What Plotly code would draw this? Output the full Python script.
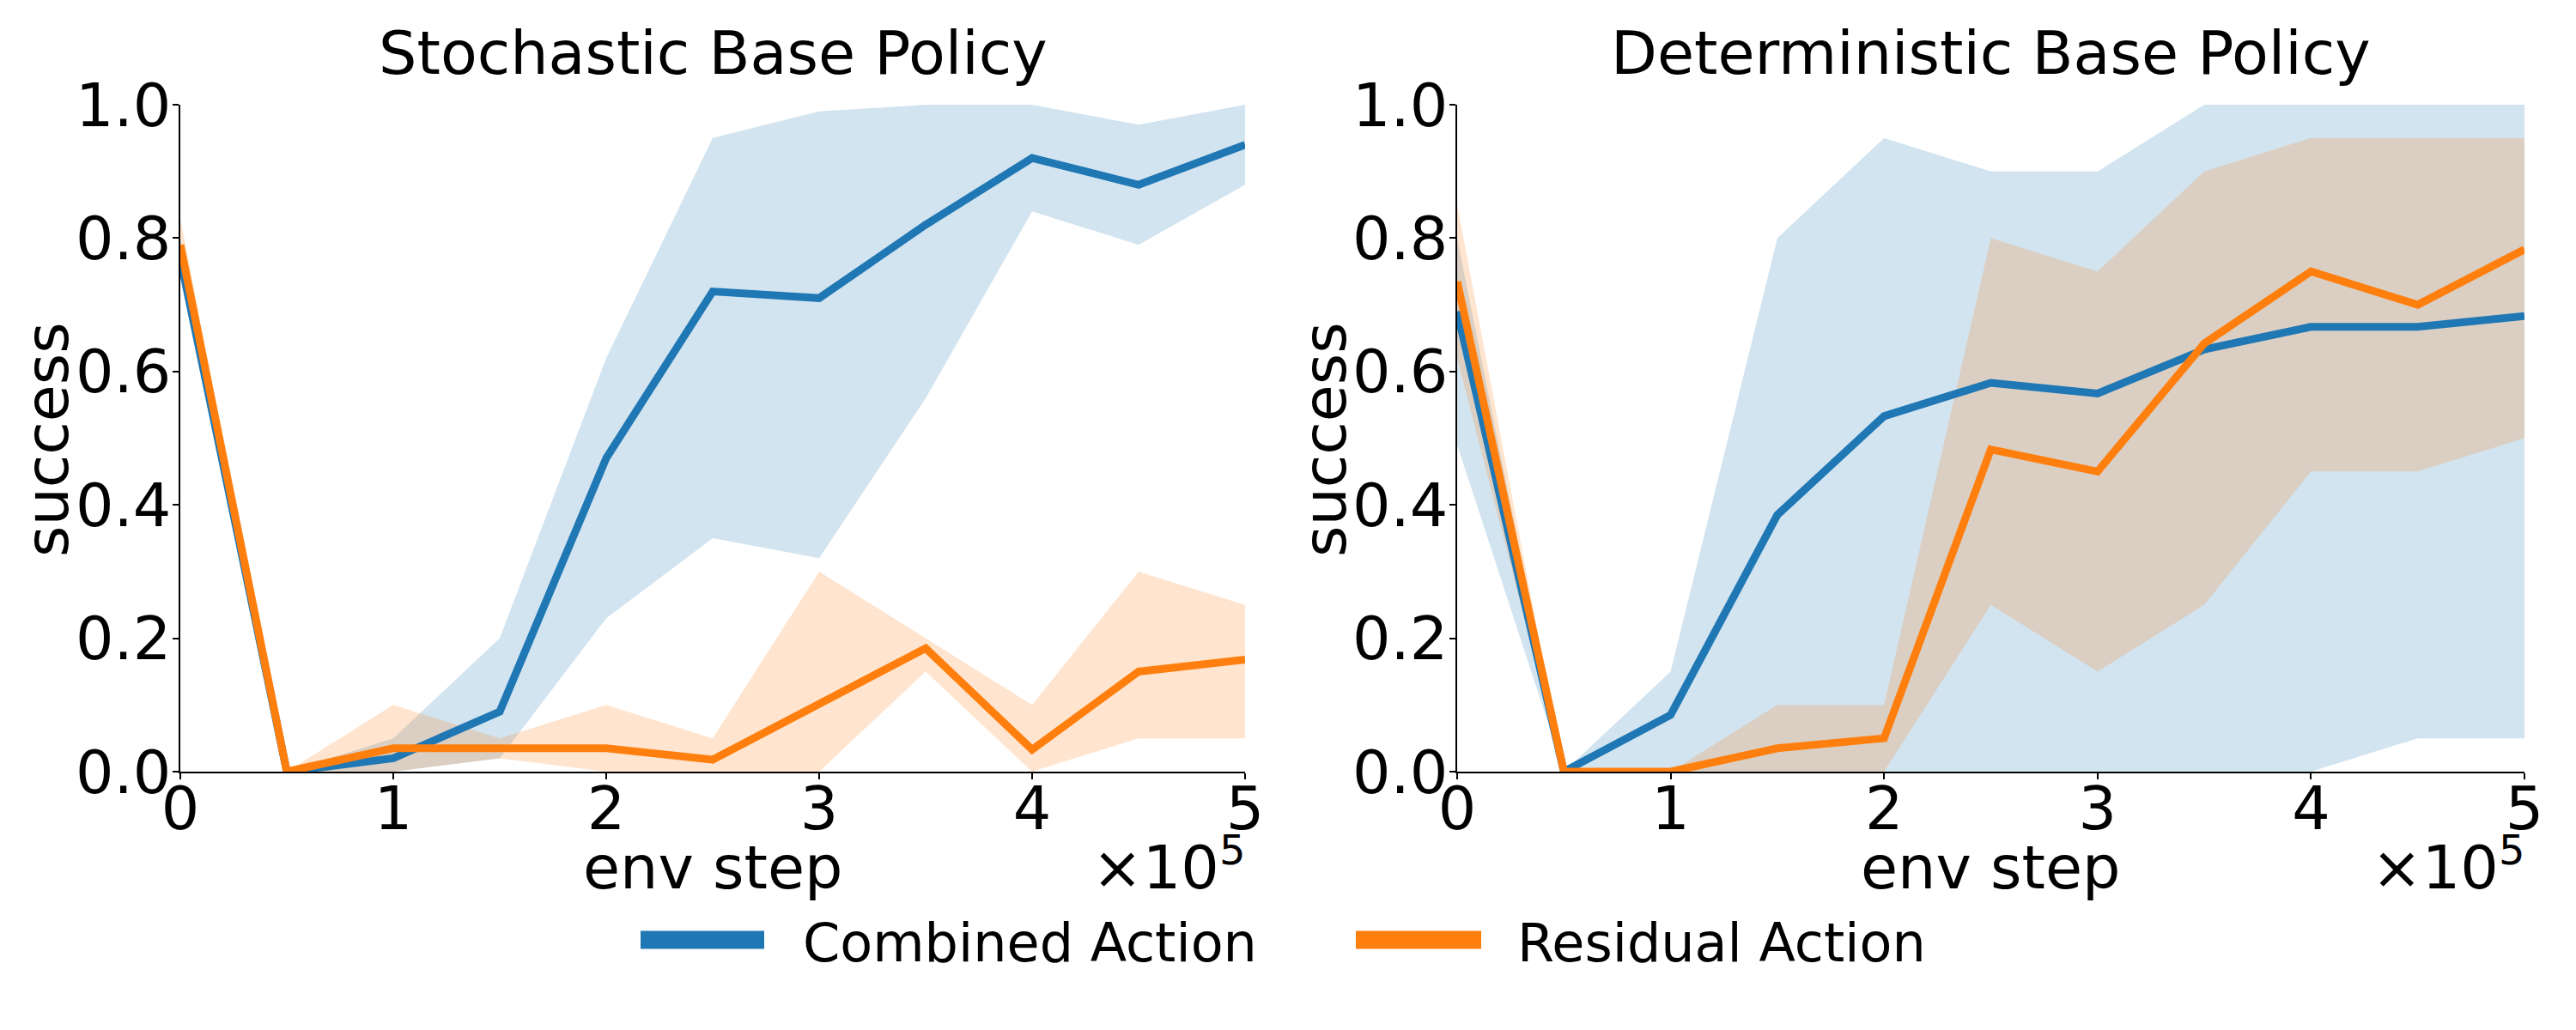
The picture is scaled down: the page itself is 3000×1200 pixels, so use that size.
import plotly.graph_objects as go

# ---------------- data ----------------
env_step = [0, 50000, 100000, 150000, 200000, 250000, 300000, 350000, 400000, 450000, 500000]
x_tick_vals = [0, 100000, 200000, 300000, 400000, 500000]
x_tick_text = ["0", "1", "2", "3", "4", "5"]
y_tick_vals = [0.0, 0.2, 0.4, 0.6, 0.8, 1.0]
y_tick_text = ["0.0", "0.2", "0.4", "0.6", "0.8", "1.0"]

titles = ["Stochastic Base Policy", "Deterministic Base Policy"]
series_names = ["Combined Action", "Residual Action"]

# Stochastic base policy
stoch_combined_mean = [0.77, 0.0, 0.02, 0.09, 0.47, 0.72, 0.71, 0.82, 0.92, 0.88, 0.94]
stoch_combined_low = [0.74, 0.0, 0.0, 0.02, 0.23, 0.35, 0.32, 0.56, 0.84, 0.79, 0.88]
stoch_combined_high = [0.80, 0.0, 0.05, 0.20, 0.62, 0.95, 0.99, 1.0, 1.0, 0.97, 1.0]
stoch_residual_mean = [0.79, 0.0, 0.035, 0.035, 0.035, 0.018, 0.10, 0.185, 0.033, 0.15, 0.168]
stoch_residual_low = [0.76, 0.0, 0.0, 0.02, 0.0, 0.0, 0.0, 0.15, 0.0, 0.05, 0.05]
stoch_residual_high = [0.83, 0.0, 0.10, 0.05, 0.10, 0.05, 0.30, 0.20, 0.10, 0.30, 0.25]

# Deterministic base policy
det_combined_mean = [0.69, 0.0, 0.085, 0.385, 0.533, 0.583, 0.567, 0.633, 0.667, 0.667, 0.683]
det_combined_low = [0.49, 0.0, 0.0, 0.0, 0.0, 0.0, 0.0, 0.0, 0.0, 0.05, 0.05]
det_combined_high = [0.80, 0.0, 0.15, 0.80, 0.95, 0.90, 0.90, 1.0, 1.0, 1.0, 1.0]
det_residual_mean = [0.735, 0.0, 0.0, 0.035, 0.05, 0.483, 0.45, 0.642, 0.75, 0.70, 0.783]
det_residual_low = [0.62, 0.0, 0.0, 0.0, 0.0, 0.25, 0.15, 0.25, 0.45, 0.45, 0.50]
det_residual_high = [0.85, 0.0, 0.0, 0.10, 0.10, 0.80, 0.75, 0.90, 0.95, 0.95, 0.95]

panels = [
    [(stoch_combined_mean, stoch_combined_low, stoch_combined_high),
     (stoch_residual_mean, stoch_residual_low, stoch_residual_high)],
    [(det_combined_mean, det_combined_low, det_combined_high),
     (det_residual_mean, det_residual_low, det_residual_high)],
]

line_colors = ["#1f77b4", "#ff7f0e"]
fill_colors = ["rgba(31,119,180,0.2)", "rgba(255,127,14,0.2)"]

# ---------------- layout geometry ----------------
W, H = 3000, 1200
FONT = "DejaVu Sans"
FS = 70          # ticks, titles, axis labels
FS_LEG = 62      # legend labels
FS_EXP = 48      # exponent of the x offset text
x_domains = [[210 / W, 1450 / W], [1697 / W, 2940 / W]]
y_domain = [1 - 899 / H, 1 - 122 / H]

fig = go.Figure()

for p, panel in enumerate(panels):
    xa = "x" if p == 0 else "x2"
    ya = "y" if p == 0 else "y2"
    # shaded bands first
    for s, (mean, low, high) in enumerate(panel):
        fig.add_trace(go.Scatter(x=env_step, y=low, mode="lines", line=dict(width=0, color=line_colors[s]),
                                 showlegend=False, hoverinfo="skip", xaxis=xa, yaxis=ya))
        fig.add_trace(go.Scatter(x=env_step, y=high, mode="lines", line=dict(width=0, color=line_colors[s]),
                                 fill="tonexty", fillcolor=fill_colors[s],
                                 showlegend=False, hoverinfo="skip", xaxis=xa, yaxis=ya))
    # mean lines on top
    for s, (mean, low, high) in enumerate(panel):
        fig.add_trace(go.Scatter(x=env_step, y=mean, mode="lines", name=series_names[s],
                                 line=dict(width=9, color=line_colors[s]),
                                 showlegend=False, xaxis=xa, yaxis=ya))

axis_common = dict(showline=True, linecolor="black", linewidth=1.5, ticks="outside", ticklen=7,
                   tickwidth=1.5, tickcolor="black", showgrid=False, zeroline=False,
                   tickfont=dict(family=FONT, size=FS, color="black"))

layout = dict(
    width=W, height=H,
    margin=dict(l=0, r=0, t=0, b=0, autoexpand=False),
    paper_bgcolor="white", plot_bgcolor="white",
    font=dict(family=FONT, size=FS, color="black"),
    showlegend=False,
)
for p in range(2):
    sfx = "" if p == 0 else "2"
    layout["xaxis" + sfx] = dict(axis_common, domain=x_domains[p], range=[0, 500000],
                                 tickvals=x_tick_vals, ticktext=x_tick_text,
                                 ticklabelstandoff=-26, anchor="y" + sfx)
    layout["yaxis" + sfx] = dict(axis_common, domain=y_domain, range=[0, 1],
                                 tickvals=y_tick_vals, ticktext=y_tick_text,
                                 ticklabelstandoff=-12, anchor="x" + sfx)
fig.update_layout(**layout)

ann = []
for p in range(2):
    x0, x1 = x_domains[p]
    xc = (x0 + x1) / 2
    ann.append(dict(text=titles[p], x=xc, y=1 - 105 / H, xref="paper", yref="paper",
                    xanchor="center", yanchor="bottom", showarrow=False,
                    font=dict(family=FONT, size=FS, color="black")))
    ann.append(dict(text="env step", x=xc, y=1 - 1054 / H, xref="paper", yref="paper",
                    xanchor="center", yanchor="bottom", showarrow=False,
                    font=dict(family=FONT, size=FS, color="black")))
    # offset text "×10^5" at the right end of the x axis
    ann.append(dict(text="×10", x=x1 - 28 / W, y=1 - 1054 / H, xref="paper", yref="paper",
                    xanchor="right", yanchor="bottom", showarrow=False,
                    font=dict(family=FONT, size=FS, color="black")))
    ann.append(dict(text="5", x=x1 + 3 / W, y=1 - 1020 / H, xref="paper", yref="paper",
                    xanchor="right", yanchor="bottom", showarrow=False,
                    font=dict(family=FONT, size=FS_EXP, color="black")))
    ann.append(dict(text="success", x=(55 if p == 0 else 1543) / W, y=1 - 512 / H,
                    xref="paper", yref="paper", xanchor="center", yanchor="middle",
                    textangle=-90, showarrow=False,
                    font=dict(family=FONT, size=FS, color="black")))

# legend (handle + label pairs below the panels)
legend_handles_x = [(746, 890), (1579, 1725)]
legend_text_x = [933, 1765]
legend_y = 1095
shapes = []
for s in range(2):
    hx0, hx1 = legend_handles_x[s]
    shapes.append(dict(type="line", xref="paper", yref="paper",
                       x0=hx0 / W, x1=hx1 / W, y0=1 - legend_y / H, y1=1 - legend_y / H,
                       line=dict(color=line_colors[s], width=21)))
    ann.append(dict(text=series_names[s], x=legend_text_x[s] / W, y=1 - (legend_y + 3) / H,
                    xref="paper", yref="paper", xanchor="left", yanchor="middle",
                    showarrow=False, font=dict(family=FONT, size=FS_LEG, color="black")))
fig.update_layout(annotations=ann, shapes=shapes)

fig.write_html("out.html", config={"displayModeBar": False},
               post_script="document.body.style.margin='0px';")
